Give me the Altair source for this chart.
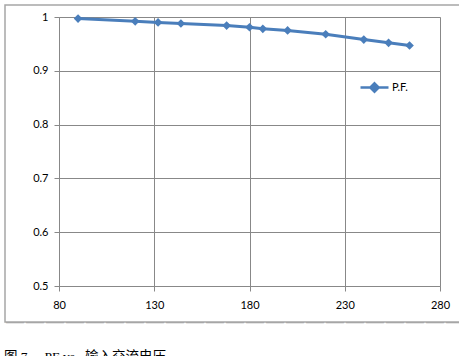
import altair as alt
import pandas as pd

voltage = [90, 120, 132, 144, 168, 180, 187, 200, 220, 240, 253, 264]
pf = [0.997, 0.992, 0.990, 0.988, 0.984, 0.981, 0.978, 0.975, 0.968, 0.958, 0.952, 0.947]
series = ["P.F."] * len(voltage)
x_ticks = [80, 130, 180, 230, 280]
y_ticks = [0.5, 0.6, 0.7, 0.8, 0.9, 1.0]
caption = "图 7\u3000 PF vs.\u00a0\u00a0输入交流电压"

df = pd.DataFrame({"V": voltage, "PF": pf, "s": series})
blue = "#4A7EBB"
grid = "#888888"
font = "Lato"

W, H = 381, 269

base = alt.Chart(df).encode(
    x=alt.X("V:Q", scale=alt.Scale(domain=[80, 280], nice=False),
            axis=alt.Axis(values=x_ticks, title=None, grid=True, gridColor=grid,
                          domainColor=grid, tickColor=grid, tickSize=5, labelFlush=False,
                          labelFont=font, labelFontSize=11, labelColor="#000000",
                          labelPadding=8)),
    y=alt.Y("PF:Q", scale=alt.Scale(domain=[0.5, 1.0], nice=False, zero=False),
            axis=alt.Axis(values=y_ticks, title=None, grid=True, gridColor=grid,
                          domainColor=grid, tickColor=grid, tickSize=5, format="~g",
                          labelFont=font, labelFontSize=11, labelColor="#000000",
                          labelFlush=False, labelPadding=6)),
    color=alt.Color("s:N", scale=alt.Scale(range=[blue]),
                    legend=alt.Legend(title=None, orient="none", legendX=300, legendY=55,
                                      symbolType="M-1,0L1,0M0,-0.3L0.3,0L0,0.3L-0.3,0Z",
                                      symbolSize=784, symbolStrokeWidth=2.5,
                                      symbolFillColor=blue, symbolStrokeColor=blue,
                                      labelFont=font, labelFontSize=11, labelOffset=2,
                                      labelColor="#000000")),
)

line = base.mark_line(strokeWidth=3)
pts = base.mark_point(shape="diamond", filled=True, size=75, opacity=1)

frame_df = pd.DataFrame({"a": [0]})
border = alt.Chart(frame_df).mark_rect(
    fill="transparent", stroke="#A6A6A6", strokeWidth=1.5, clip=False
).encode(x=alt.value(-54), x2=alt.value(W + 40), y=alt.value(-12), y2=alt.value(305))
bottom = alt.Chart(frame_df).mark_text(
    text="\u2014" * 40, color="#A6A6A6", fontSize=20, align="left", baseline="middle",
    clip=False, font="DejaVu Sans"
).encode(x=alt.value(-54), y=alt.value(305))

chart = alt.layer(border, bottom, line, pts).properties(
    width=W, height=H,
    title=alt.TitleParams(caption, orient="bottom", anchor="start", font="Liberation Serif, Noto Sans CJK SC",
                          fontSize=13.5, fontWeight="normal", color="#000000", offset=18, dx=-55, frame="group"),
    padding={"left": 59, "top": 17, "right": 19, "bottom": 70},
    autosize=alt.AutoSizeParams(type="none"),
).configure_view(stroke=None).configure(background="white")

chart.save("out.html", embed_options={"renderer": "svg", "actions": False})
